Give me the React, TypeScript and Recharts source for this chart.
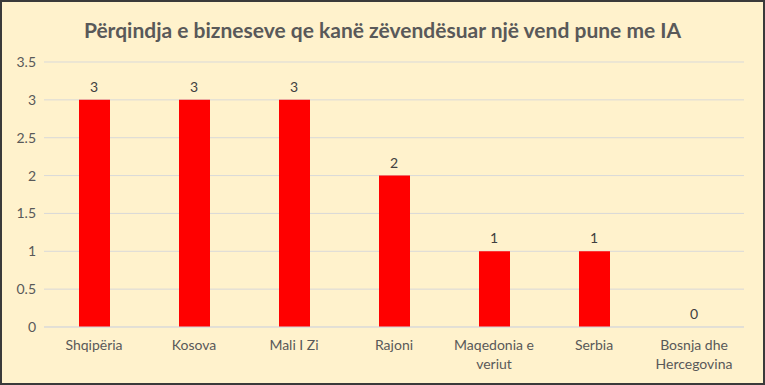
import React from 'react';
import { ComposedChart, Bar, Line, XAxis, YAxis, CartesianGrid, LabelList } from 'recharts';

const categories = ['Shqipëria', 'Kosova', 'Mali I Zi', 'Rajoni', 'Maqedonia e veriut', 'Serbia', 'Bosnja dhe Hercegovina'];
const categoryLines = [['Shqipëria'], ['Kosova'], ['Mali I Zi'], ['Rajoni'], ['Maqedonia e', 'veriut'], ['Serbia'], ['Bosnja dhe', 'Hercegovina']];
const values = [3, 3, 3, 2, 1, 1, 0];
const yTicks = [0, 0.5, 1, 1.5, 2, 2.5, 3, 3.5];

const title = 'Përqindja e bizneseve qe kanë zëvendësuar një vend pune me IA';

const data = categories.map((name, i) => ({ name, value: values[i], label: String(values[i]) }));

const FONT = 'Lato, "Open Sans", sans-serif';

const XTick = (props: any) => {
  const { x, y, payload } = props;
  const lines = categoryLines[payload.index] || [payload.value];
  return (
    <g transform={`translate(${x},${y})`}>
      {lines.map((l: string, i: number) => (
        <text key={i} x={0} y={15 + i * 19} textAnchor="middle" fill="#595959" fontSize={14} fontFamily={FONT}>
          {l}
        </text>
      ))}
    </g>
  );
};

// value labels sit on an invisible line so that the 0 one is drawn too
const TopLabel = (props: any) => {
  const { x, y, width, value } = props;
  return (
    <text x={x + (width || 0) / 2} y={y - 8} textAnchor="middle" fill="#404040" fontSize={14} fontFamily={FONT}>
      {value}
    </text>
  );
};

export default function App() {
  return (
    <div
      style={{
        position: 'relative',
        width: 765,
        height: 385,
        background: '#FFF2CC',
        border: '2px solid #3a3a3a',
        boxSizing: 'border-box',
        fontFamily: FONT,
      }}
    >
      <style>{'body{margin:0}'}</style>
      <div
        style={{
          position: 'absolute',
          top: 15,
          left: 0,
          width: 761,
          textAlign: 'center',
          fontSize: 21,
          fontWeight: 'bold',
          color: '#595959',
        }}
      >
        {title}
      </div>
      <div style={{ position: 'absolute', left: -2, top: -2 }}>
        <ComposedChart width={765} height={385} data={data} margin={{ top: 62, right: 21, left: 8, bottom: 13 }}>
          <CartesianGrid vertical={false} stroke="#d9d9d9" />
          <XAxis
            dataKey="name"
            interval={0}
            tickLine={false}
            axisLine={{ stroke: '#d9d9d9' }}
            tick={<XTick />}
            height={45}
          />
          <YAxis
            domain={[0, 3.5]}
            ticks={yTicks}
            width={36}
            axisLine={false}
            tickLine={false}
            tick={{ fill: '#595959', fontSize: 14, fontFamily: FONT }}
          />
          <Bar dataKey="value" fill="#FF0000" barSize={31} isAnimationActive={false} />
          <Line dataKey="value" stroke="none" dot={false} activeDot={false} isAnimationActive={false}>
            <LabelList dataKey="label" content={<TopLabel />} />
          </Line>
        </ComposedChart>
      </div>
    </div>
  );
}
